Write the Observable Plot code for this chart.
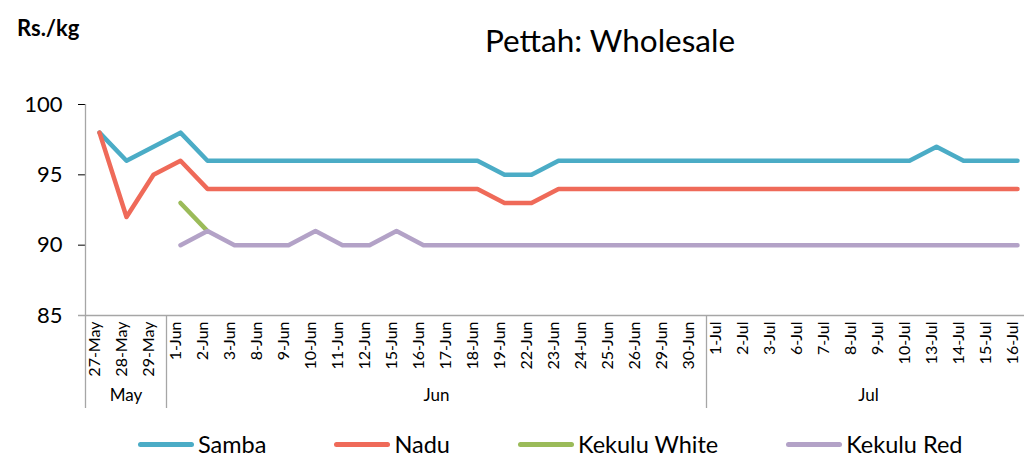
<!DOCTYPE html>
<html>
<head>
<meta charset="utf-8">
<script src="https://cdn.jsdelivr.net/npm/d3@7"></script>
<script src="https://cdn.jsdelivr.net/npm/@observablehq/plot@0.6"></script>
<style>
  html, body { margin: 0; padding: 0; background: #fff; }
  body { position: relative; width: 1024px; height: 458px; overflow: hidden; font-family: Lato, "Open Sans", sans-serif; color: #000; }
  #unit { position: absolute; left: 17px; top: 17px; font-size: 22px; font-weight: bold; line-height: 1; }
  #title { position: absolute; left: 610px; top: 25px; transform: translateX(-50%); font-size: 31.5px; line-height: 1; white-space: nowrap; }
  #chart { position: absolute; left: 0; top: 0; }
  #legend { position: absolute; left: 138px; top: 432px; display: flex; gap: 68px; font-size: 23.5px; line-height: 1.05; }
  .item { display: flex; align-items: center; white-space: nowrap; }
  .sw { display: inline-block; width: 56px; height: 5px; border-radius: 3px; margin-right: 4px; }
</style>
</head>
<body>
<div id="unit">Rs./kg</div>
<div id="title">Pettah: Wholesale</div>
<div id="chart"></div>
<div id="legend"></div>
<script>
// ---- data ----
const dates = ["27-May","28-May","29-May","1-Jun","2-Jun","3-Jun","8-Jun","9-Jun","10-Jun","11-Jun","12-Jun","15-Jun","16-Jun","17-Jun","18-Jun","19-Jun","22-Jun","23-Jun","24-Jun","25-Jun","26-Jun","29-Jun","30-Jun","1-Jul","2-Jul","3-Jul","6-Jul","7-Jul","8-Jul","9-Jul","10-Jul","13-Jul","14-Jul","15-Jul","16-Jul"];
const months = ["May","Jun","Jul"];
const seriesNames = ["Samba","Nadu","Kekulu White","Kekulu Red"];
const samba = [98,96,97,98,96,96,96,96,96,96,96,96,96,96,96,95,95,96,96,96,96,96,96,96,96,96,96,96,96,96,96,97,96,96,96];
const nadu = [98,92,95,96,94,94,94,94,94,94,94,94,94,94,94,93,93,94,94,94,94,94,94,94,94,94,94,94,94,94,94,94,94,94,94];
const kekuluWhite = [null,null,null,93,91,null,null,null,null,null,null,null,null,null,null,null,null,null,null,null,null,null,null,null,null,null,null,null,null,null,null,null,null,null,null];
const kekuluRed = [null,null,null,90,91,90,90,90,91,90,90,91,90,90,90,90,90,90,90,90,90,90,90,90,90,90,90,90,90,90,90,90,90,90,90];
const yTicks = [85,90,95,100];
const colors = ["#4BACC6","#EF6A59","#9BBB59","#B3A2C7"];

// ---- build table ----
const seriesValues = [samba, nadu, kekuluWhite, kekuluRed];
const rows = [];
seriesNames.forEach((name, s) => {
  seriesValues[s].forEach((v, i) => {
    if (v != null) rows.push({date: dates[i], value: v, series: name});
  });
});
const monthOf = d => d.split("-")[1];
const axisColor = "#A6A6A6";

const chart = Plot.plot({
  width: 1024,
  height: 420,
  marginLeft: 85,
  marginRight: -6,
  marginTop: 104,
  marginBottom: 105,
  style: {fontFamily: "Lato, 'Open Sans', sans-serif", fontSize: "22px", color: "#000", background: "transparent", overflow: "visible"},
  x: {type: "point", domain: dates, padding: 0.5, axis: null},
  y: {domain: [85, 100], ticks: yTicks, tickSize: 7, tickPadding: 16, label: null, tickFormat: d => d},
  color: {domain: seriesNames, range: colors},
  marks: [
    Plot.ruleY([85], {stroke: axisColor, strokeWidth: 1.3, insetLeft: -7, insetRight: -10}),
    Plot.text(dates, {x: d => d, frameAnchor: "bottom", rotate: -90, textAnchor: "end", dy: 6, fontSize: 16, fill: "#000"}),
    Plot.line(rows, {x: "date", y: "value", z: "series", stroke: "series", strokeWidth: 4.5, strokeLinejoin: "round", strokeLinecap: "round"})
  ]
});
document.getElementById("chart").appendChild(chart);

// ---- category grouping (month) drawn with Plot's own scales ----
const xs = chart.scale("x");
const ys = chart.scale("y");
const step = xs.apply(dates[1]) - xs.apply(dates[0]);
const y0 = ys.apply(85);
const yTop = ys.apply(100);
const yBottom = y0 + 93;
const svg = d3.select(chart.tagName.toLowerCase() === "svg" ? chart : chart.querySelector("svg"));
const g = svg.append("g");
// y axis line
g.append("line")
  .attr("x1", xs.apply(dates[0]) - step / 2).attr("x2", xs.apply(dates[0]) - step / 2)
  .attr("y1", yTop).attr("y2", yBottom)
  .attr("stroke", axisColor).attr("stroke-width", 1.3);
months.forEach((m, k) => {
  const cats = dates.filter(d => monthOf(d) === m);
  const x1 = xs.apply(cats[0]) - step / 2;
  const x2 = xs.apply(cats[cats.length - 1]) + step / 2;
  if (k > 0) {
    g.append("line").attr("x1", x1).attr("x2", x1).attr("y1", y0).attr("y2", yBottom)
      .attr("stroke", axisColor).attr("stroke-width", 1.3);
  }
  g.append("text").attr("x", (x1 + x2) / 2).attr("y", y0 + 86)
    .attr("text-anchor", "middle").attr("font-size", 17).attr("fill", "#000").text(m);
});

// ---- legend ----
const legend = document.getElementById("legend");
seriesNames.forEach((name, i) => {
  const item = document.createElement("div");
  item.className = "item";
  const sw = document.createElement("span");
  sw.className = "sw";
  sw.style.background = colors[i];
  item.appendChild(sw);
  item.appendChild(document.createTextNode(name));
  legend.appendChild(item);
});
</script>
</body>
</html>
